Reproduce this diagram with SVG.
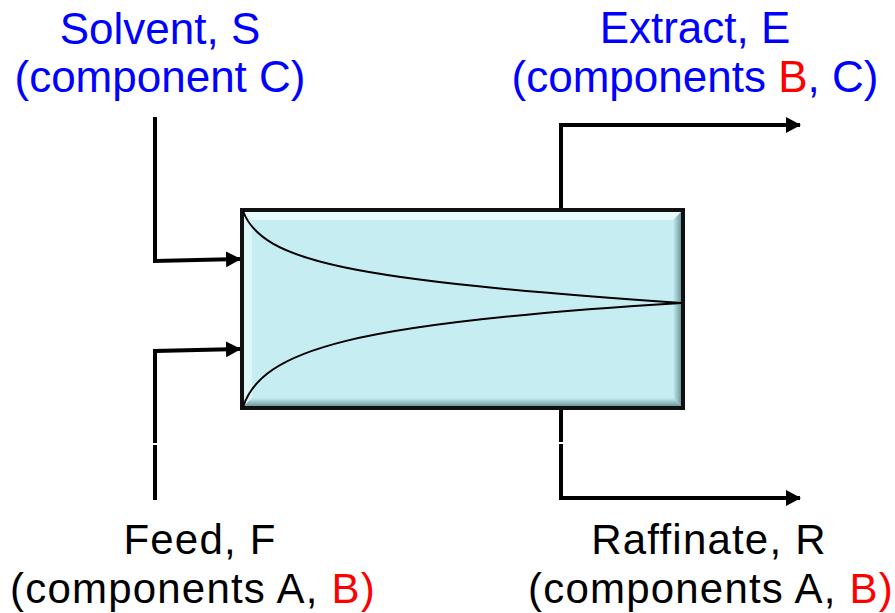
<svg xmlns="http://www.w3.org/2000/svg" width="895" height="613" viewBox="0 0 895 613">
<style>
.lbl{font-family:"Liberation Sans",Arial,sans-serif;font-size:44px;text-anchor:middle}
.sm{font-size:42px;letter-spacing:1.2px}
.blue{fill:#0000ff}
.blk{fill:#000}
.red{fill:#ff0000}
.ln{fill:none;stroke:#000;stroke-width:4;stroke-linejoin:miter}
.crv{fill:none;stroke:#000;stroke-width:2}
</style>
<defs>
<marker id="ah" markerUnits="userSpaceOnUse" markerWidth="16" markerHeight="16" refX="14" refY="8" orient="auto">
<path d="M0,0 L15,8 L0,16 Z" fill="#000"/>
</marker>
<linearGradient id="gr" x1="0" y1="0" x2="1" y2="0">
<stop offset="0" stop-color="#c6eef2"/>
<stop offset="1" stop-color="#6f9a9e"/>
</linearGradient>
<linearGradient id="gb" x1="0" y1="0" x2="0" y2="1">
<stop offset="0" stop-color="#c6eef2"/>
<stop offset="1" stop-color="#6f9a9e"/>
</linearGradient>
</defs>
<g id="connectors">
<path class="ln" d="M155,117 V261 L240,259" marker-end="url(#ah)"/>
<path class="ln" d="M155,500 V445"/>
<path class="ln" d="M155,443 V351 L240,349" marker-end="url(#ah)"/>
<path class="ln" d="M561,210 V125 H800" marker-end="url(#ah)"/>
<path class="ln" d="M561,409 V442"/>
<path class="ln" d="M561,444 V498 H800" marker-end="url(#ah)"/>
</g>
<g id="extractor">
<rect x="242" y="210" width="441" height="198" fill="#c6eef2"/>
<polygon points="244,212 681,212 673,220 252,220" fill="#e6fafb"/>
<polygon points="244,212 252,220 252,398 244,406" fill="#dff6f8"/>
<polygon points="681,212 681,406 673,398 673,220" fill="url(#gr)"/>
<polygon points="244,406 681,406 673,398 252,398" fill="url(#gb)"/>
<rect x="242" y="210" width="441" height="198" fill="none" stroke="#111" stroke-width="4"/>
<path class="crv" d="M243,211 C262,262 350,280 682,303"/>
<path class="crv" d="M243,407 C262,350 350,323 682,303"/>
</g>
<g id="solvent">
<text class="lbl blue" x="160" y="44">Solvent, S</text>
<text class="lbl blue" x="160" y="92">(component C)</text>
</g>
<g id="extract">
<text class="lbl blue" x="695" y="43">Extract, E</text>
<text class="lbl blue" x="695" y="92">(components <tspan class="red">B</tspan>, C)</text>
</g>
<g id="feed">
<text class="lbl sm blk" x="200" y="554">Feed, F</text>
<text class="lbl sm blk" x="193" y="603">(components A, <tspan class="red">B</tspan><tspan class="red">)</tspan></text>
</g>
<g id="raffinate">
<text class="lbl sm blk" x="709" y="554">Raffinate, R</text>
<text class="lbl sm blk" x="711" y="603">(components A, <tspan class="red">B</tspan><tspan class="red">)</tspan></text>
</g>
</svg>
